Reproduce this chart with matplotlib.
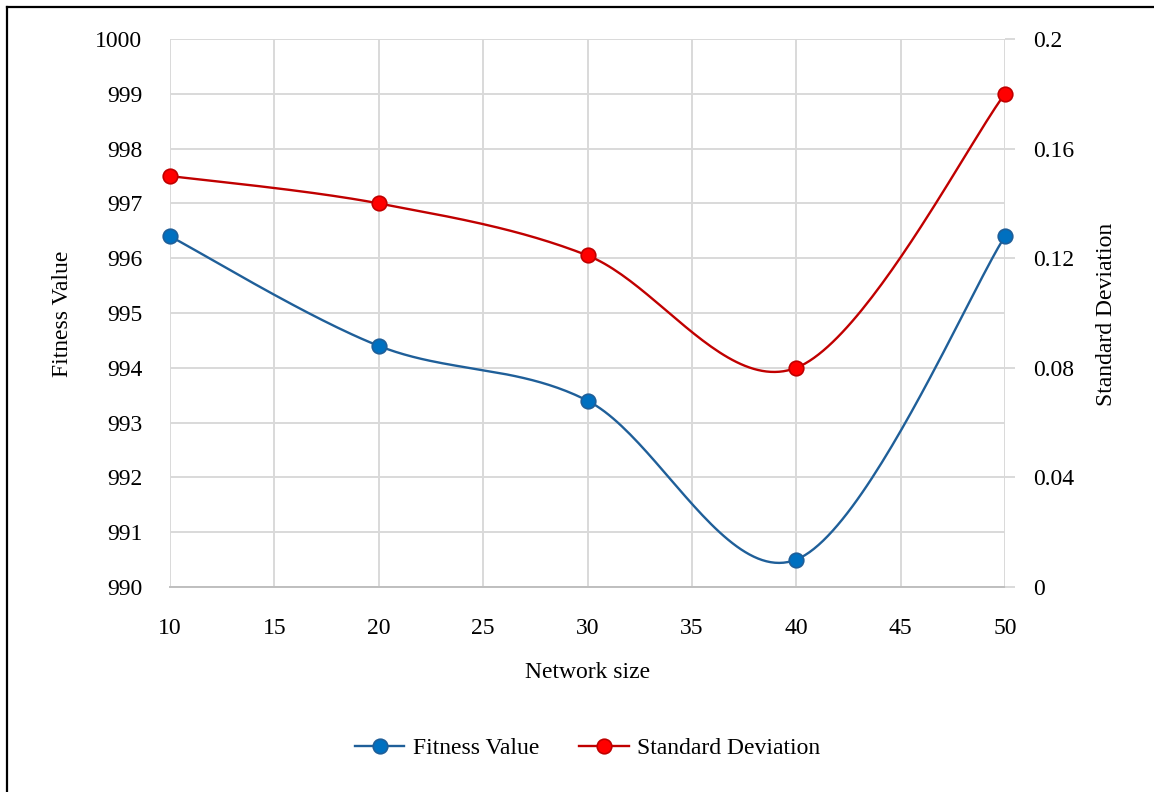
import numpy as np
import matplotlib
matplotlib.use("Agg")
import matplotlib.pyplot as plt
from matplotlib.lines import Line2D

# ---- data ----
network_size = [10, 20, 30, 40, 50]
fitness_value = [996.4, 994.4, 993.4, 990.5, 996.4]
std_dev = [0.15, 0.14, 0.121, 0.08, 0.18]
x_ticks = [10, 15, 20, 25, 30, 35, 40, 45, 50]
left_ticks = [990, 991, 992, 993, 994, 995, 996, 997, 998, 999, 1000]
right_ticks = [0, 0.04, 0.08, 0.12, 0.16, 0.2]
right_tick_labels = ["0", "0.04", "0.08", "0.12", "0.16", "0.2"]

plt.rcParams['font.family'] = ['Liberation Serif', 'DejaVu Serif']

W, H = 1154, 792
fig = plt.figure(figsize=(W / 100, H / 100), dpi=100)
L, R, T, B = 170, 1005, 39, 587
ax = fig.add_axes([L / W, 1 - B / H, (R - L) / W, (B - T) / H])
ax2 = ax.twinx()

grid_c = '#d9d9d9'
FS = 17


def smooth(xs, ys, sx, sy, n=50):
    """Excel-like smoothed line (Catmull-Rom Bezier) in pixel-scaled space."""
    P = np.column_stack([np.asarray(xs, float) * sx, np.asarray(ys, float) * sy])
    pts = [P[0]]
    for i in range(len(P) - 1):
        p0 = P[i - 1] if i > 0 else P[i]
        p1, p2 = P[i], P[i + 1]
        p3 = P[i + 2] if i + 2 < len(P) else P[i + 1]
        c1 = p1 + (p2 - p0) / 6
        c2 = p2 - (p3 - p1) / 6
        t = np.linspace(0, 1, n)[1:, None]
        seg = (1 - t) ** 3 * p1 + 3 * (1 - t) ** 2 * t * c1 + 3 * (1 - t) * t ** 2 * c2 + t ** 3 * p2
        pts.extend(seg)
    pts = np.array(pts)
    return pts[:, 0] / sx, pts[:, 1] / sy


ax.set_xlim(10, 50)
ax.set_ylim(990, 1000)
ax2.set_ylim(0, 0.2)

sx = (R - L) / 40
sy1 = (B - T) / 10
sy2 = (B - T) / 0.2

blue_line = '#1f5f99'
blue_face = '#0070c0'
red_line = '#c00000'
red_face = '#ff0000'

bx, by = smooth(network_size, fitness_value, sx, sy1)
ax.plot(bx, by, color=blue_line, lw=1.7, zorder=3, solid_capstyle='round')
ax.plot(network_size, fitness_value, ls='none', marker='o', ms=10.5,
        mfc=blue_face, mec=blue_line, mew=1.2, zorder=4, clip_on=False)

rx, ry = smooth(network_size, std_dev, sx, sy2)
ax2.plot(rx, ry, color=red_line, lw=1.7, zorder=3, solid_capstyle='round')
ax2.plot(network_size, std_dev, ls='none', marker='o', ms=10.5,
         mfc=red_face, mec=red_line, mew=1.2, zorder=4, clip_on=False)

# grid & axes
ax.set_xticks(x_ticks)
ax.set_xticklabels([str(v) for v in x_ticks])
ax.set_yticks(left_ticks)
ax.set_yticklabels([str(v) for v in left_ticks])
ax.grid(True, color=grid_c, lw=1.4)
ax.set_axisbelow(True)
for s in ['top', 'right', 'left']:
    ax.spines[s].set_visible(False)
ax.spines['bottom'].set_color('#bfbfbf')
ax.spines['bottom'].set_linewidth(1.4)
for s in ['top', 'left', 'bottom', 'right']:
    ax2.spines[s].set_visible(False)

ax.tick_params(axis='x', length=0, pad=22, labelsize=FS, colors='black')
ax.tick_params(axis='y', length=0, pad=20, labelsize=FS, colors='black')
ax2.set_yticks(right_ticks)
ax2.set_yticklabels(right_tick_labels)
ax2.tick_params(axis='y', length=7, width=1.4, color=grid_c, direction='out',
                pad=13, labelsize=FS, labelcolor='black')

# axis titles
fig.text((L + R) / 2 / W, 1 - 672 / H, 'Network size', ha='center', va='center', fontsize=FS)
fig.text(62 / W, 1 - 314 / H, 'Fitness Value', ha='center', va='center', rotation=90, fontsize=FS)
fig.text(1107 / W, 1 - 314 / H, 'Standard Deviation', ha='center', va='center', rotation=90, fontsize=FS)

# legend
handles = [
    Line2D([], [], color=blue_line, lw=1.7, marker='o', ms=10.5, mfc=blue_face, mec=blue_line, mew=1.2),
    Line2D([], [], color=red_line, lw=1.7, marker='o', ms=10.5, mfc=red_face, mec=red_line, mew=1.2),
]
fig.legend(handles, ['Fitness Value', 'Standard Deviation'], loc='center',
           bbox_to_anchor=((L + R) / 2 / W, 1 - 748 / H), ncol=2, frameon=False,
           fontsize=FS, handlelength=2.1, columnspacing=1.7, handletextpad=0.35)

# outer border (left and top)
fig.add_artist(Line2D([7 / W, 7 / W], [0, 1 - 7 / H], color='black', lw=1.6, transform=fig.transFigure))
fig.add_artist(Line2D([7 / W, 1], [1 - 7 / H, 1 - 7 / H], color='black', lw=1.6, transform=fig.transFigure))

fig.savefig('out.png', dpi=100)
